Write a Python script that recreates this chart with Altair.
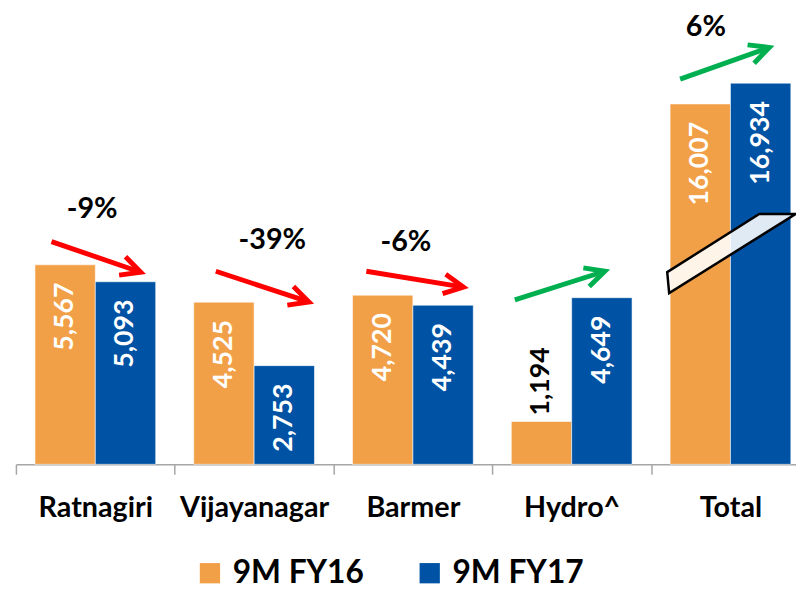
import math
import altair as alt
import pandas as pd

# ---------------- data ----------------
categories = ["Ratnagiri", "Vijayanagar", "Barmer", "Hydro^", "Total"]
series = ["9M FY16", "9M FY17"]
fy16 = [5567, 4525, 4720, 1194, 16007]
fy17 = [5093, 2753, 4439, 4649, 16934]
colors = ["#F2A047", "#0052A4"]

# "Total" is drawn on a broken axis: bar heights as drawn in the picture
total_drawn_fy16 = 10055
total_drawn_fy17 = 10635

# value label inside the bar (white) or above it (black)
inside_fy16 = [True, True, True, False, True]
inside_fy17 = [True, True, True, True, True]

# change annotations (x in category units 0..5, y in value units)
change_text = ["-9%", "-39%", "-6%", "6%"]
change_x = [0.48, 1.615, 2.456, 4.345]
change_y = [7127, 6243, 6188, 12210]

arrow_x1 = [0.224, 1.259, 2.207, 3.142, 4.183]
arrow_y1 = [6215, 5387, 5387, 4586, 10746]
arrow_x2 = [0.786, 1.845, 2.818, 3.709, 4.744]
arrow_y2 = [5359, 4530, 4945, 5387, 11630]
arrow_color = ["#FF0000", "#FF0000", "#FF0000", "#00B050", "#00B050"]

break_x = [4.507]
break_y = [5883]

# ---------------- layout ----------------
W, H = 802, 458
Y_MAX = 12650
KX = W / 5.0
KY = H / Y_MAX
FONT = "Lato"

rows = []
for i, c in enumerate(categories):
    for s, vals, inside in ((series[0], fy16, inside_fy16), (series[1], fy17, inside_fy17)):
        v = vals[i]
        drawn = v
        if c == "Total":
            drawn = total_drawn_fy16 if s == series[0] else total_drawn_fy17
        rows.append({"category": c, "series": s, "value": v, "drawn": drawn,
                     "label": f"{v:,}", "inside": inside[i]})
bars_df = pd.DataFrame(rows)

arrows_df = pd.DataFrame({"x1": arrow_x1, "y1": arrow_y1, "x2": arrow_x2, "y2": arrow_y2,
                          "color": arrow_color})
arrows_df["angle"] = [
    (math.degrees(math.atan2(-(b2 - b1) * KY, (a2 - a1) * KX)) + 360) % 360
    for a1, b1, a2, b2 in zip(arrow_x1, arrow_y1, arrow_x2, arrow_y2)
]
pct_df = pd.DataFrame({"x": change_x, "y": change_y, "text": change_text})
brk_df = pd.DataFrame({"x": break_x, "y": break_y})

yscale = alt.Scale(domain=[0, Y_MAX], nice=False, zero=True)
xband_scale = alt.Scale(domain=categories, paddingInner=0, paddingOuter=0)
xoff_scale = alt.Scale(domain=series, paddingInner=0, paddingOuter=0.315)
xq_scale = alt.Scale(domain=[0, 5], nice=False, zero=False)

axis_x = alt.Axis(title=None, labelAngle=0, labelFont=FONT, labelFontSize=29,
                  labelFontWeight="bold", labelColor="black", labelPadding=43,
                  labelBaseline="alphabetic", tickBand="extent", tickSize=10,
                  tickColor="#A6A6A6", tickWidth=1.5, domainColor="#A6A6A6",
                  domainWidth=1.5, grid=False, labelLimit=0)

base = alt.Chart(bars_df)
x_cat = alt.X("category:N", sort=categories, scale=xband_scale, axis=axis_x)
x_off = alt.XOffset("series:N", sort=series, scale=xoff_scale)
y_val = alt.Y("drawn:Q", scale=yscale, axis=None)

bars = base.mark_bar(stroke="#ffffff", strokeWidth=0.8, strokeOpacity=0.7).encode(
    x=x_cat,
    xOffset=x_off,
    y=y_val,
    color=alt.Color("series:N", sort=series,
                    scale=alt.Scale(domain=series, range=colors),
                    legend=alt.Legend(orient="none", legendX=180, legendY=552,
                                      direction="horizontal", title=None,
                                      symbolType="square", symbolSize=420,
                                      symbolStrokeWidth=0, symbolOpacity=1,
                                      labelFont=FONT, labelFontSize=32,
                                      labelFontWeight="bold", labelColor="black",
                                      labelOffset=7, columnPadding=50, labelLimit=0)),
)

def value_labels(inside):
    return base.transform_filter(
        alt.datum.inside if inside else ~alt.datum.inside
    ).mark_text(
        angle=270, align="right" if inside else "left", baseline="middle",
        dx=-18 if inside else 6, font=FONT, fontSize=27, fontWeight="bold",
        color="white" if inside else "black",
    ).encode(
        x=x_cat,
        xOffset=x_off,
        y=y_val,
        text="label:N",
    )

bar_group = alt.layer(bars, value_labels(True), value_labels(False))

rules = alt.Chart(arrows_df).mark_rule(strokeWidth=5, strokeCap="butt").encode(
    x=alt.X("x1:Q", scale=xq_scale, axis=None),
    x2="x2:Q",
    y=alt.Y("y1:Q", scale=yscale, axis=None),
    y2="y2:Q",
    stroke=alt.Stroke("color:N", scale=None),
)

heads = alt.Chart(arrows_df).mark_point(
    shape="M-1,-0.5L0,0L-1,0.5", filled=False, size=1550, strokeWidth=5,
    opacity=1, strokeJoin="miter",
).encode(
    x=alt.X("x2:Q", scale=xq_scale, axis=None),
    y=alt.Y("y2:Q", scale=yscale, axis=None),
    angle=alt.Angle("angle:Q", scale=None),
    stroke=alt.Stroke("color:N", scale=None),
)

brk = alt.Chart(brk_df).mark_point(
    shape="M-1,0.29L0.43,-0.615L1,-0.615L-0.97,0.615Z", filled=True, size=16900,
    fill="white", fillOpacity=0.88, stroke="black", strokeWidth=2.5, opacity=1,
).encode(
    x=alt.X("x:Q", scale=xq_scale, axis=None),
    y=alt.Y("y:Q", scale=yscale, axis=None),
)

pct = alt.Chart(pct_df).mark_text(
    font=FONT, fontSize=29, fontWeight="bold", color="black",
    align="center", baseline="middle",
).encode(
    x=alt.X("x:Q", scale=xq_scale, axis=None),
    y=alt.Y("y:Q", scale=yscale, axis=None),
    text="text:N",
)

overlay = alt.layer(rules, heads, brk, pct)

chart = alt.layer(bar_group, overlay).resolve_scale(x="independent").resolve_axis(
    x="independent"
).properties(
    width=W, height=H,
    autosize=alt.AutoSizeParams(type="none"),
    padding={"left": 8, "top": 0, "right": -14, "bottom": 124},
    background="white",
).configure_view(stroke=None)

chart.save("out.html", embed_options={"renderer": "svg", "actions": False})
